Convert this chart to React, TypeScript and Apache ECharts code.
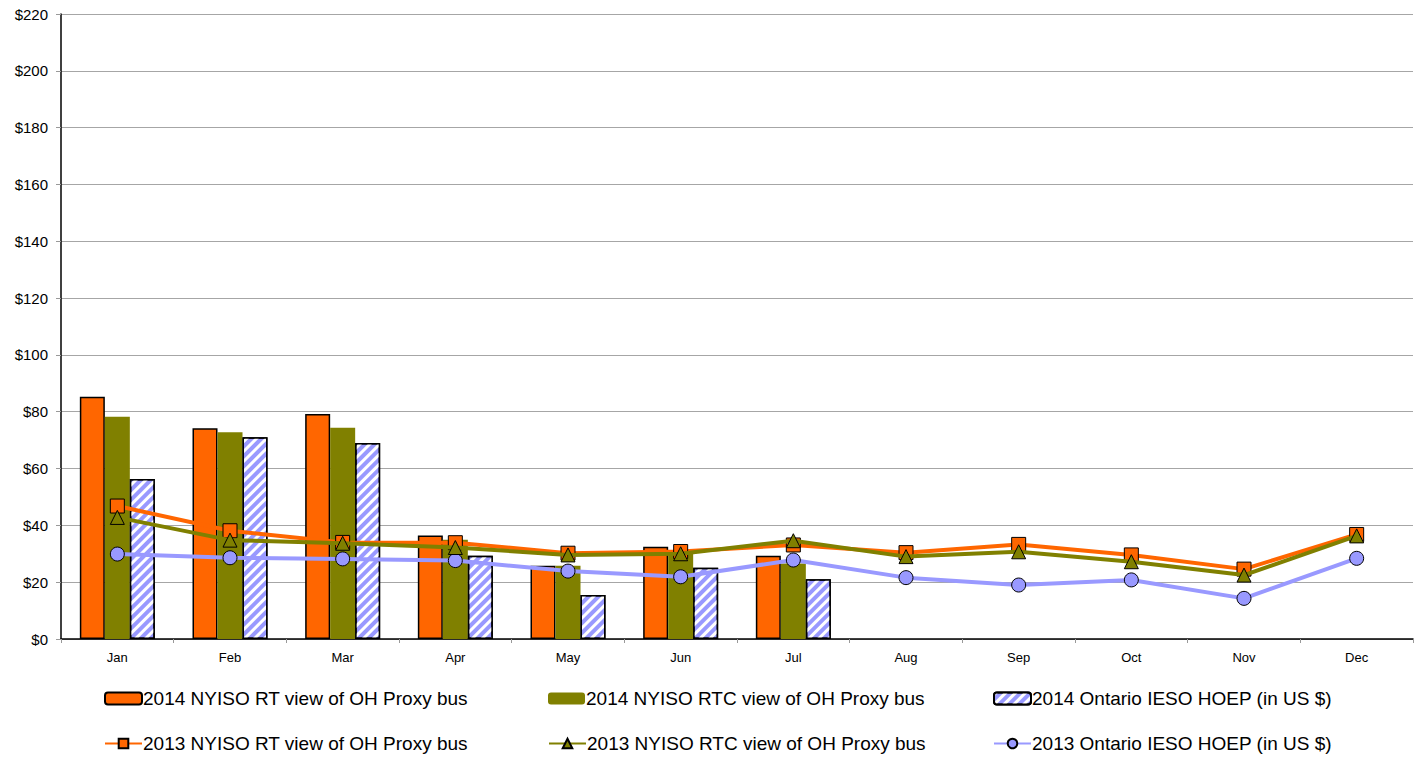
import React, { useEffect, useRef } from "react";
import * as echarts from "echarts";

const months = ["Jan", "Feb", "Mar", "Apr", "May", "Jun", "Jul", "Aug", "Sep", "Oct", "Nov", "Dec"];
const rt2014 = [85.3, 74.2, 79.2, 36.4, 25.8, 32.5, 29.3, null, null, null, null, null];
const rtc2014 = [78.2, 72.8, 74.4, 34.9, 25.8, 31.0, 26.6, null, null, null, null, null];
const ieso2014 = [56.3, 71.0, 69.0, 29.3, 15.5, 25.1, 21.0, null, null, null, null, null];
const rt2013 = [46.8, 38.1, 34.0, 33.9, 30.2, 30.8, 33.1, 30.4, 33.3, 29.6, 24.6, 36.8];
const rtc2013 = [42.8, 34.8, 33.7, 32.2, 29.6, 30.0, 34.6, 29.0, 30.7, 27.2, 22.5, 36.3];
const ieso2013 = [29.9, 28.6, 28.2, 27.6, 23.9, 21.9, 27.8, 21.6, 19.0, 20.8, 14.3, 28.4];

const names = [
  "2014 NYISO RT view of OH Proxy bus",
  "2014 NYISO RTC view of OH Proxy bus",
  "2014 Ontario IESO HOEP (in US $)",
  "2013 NYISO RT view of OH Proxy bus",
  "2013 NYISO RTC view of OH Proxy bus",
  "2013 Ontario IESO HOEP (in US $)",
];

const FONT = "Liberation Sans, Arial, sans-serif";

export default function App() {
  const ref = useRef<HTMLDivElement>(null);
  useEffect(() => {
    const chart = echarts.init(ref.current!, null, { renderer: "svg" });
    const lg = (name: string, left: number, top: number) => ({
      left,
      top,
      itemWidth: 37,
      itemHeight: 12,
      data: [name],
      selectedMode: false,
      textStyle: { fontFamily: FONT, fontSize: 19, color: "#000", padding: [0, 0, 0, -4] },
    });
    const cols = [99, 543, 988];
    const rows = [684, 729];
    chart.setOption({
      animation: false,
      aria: { enabled: true, decal: { show: false } },
      grid: { left: 61, right: 3, top: 14, bottom: 123, containLabel: false },
      legend: [
        lg(names[0], cols[0], rows[0]),
        lg(names[1], cols[1], rows[0]),
        lg(names[2], cols[2], rows[0]),
        lg(names[3], cols[0], rows[1]),
        lg(names[4], cols[1], rows[1]),
        lg(names[5], cols[2], rows[1]),
      ],
      xAxis: {
        type: "category",
        data: months,
        axisLine: { lineStyle: { color: "#000", width: 1.5 } },
        axisTick: { show: true, length: 4, lineStyle: { color: "#999" } },
        axisLabel: { fontFamily: FONT, fontSize: 13, color: "#000", margin: 12 },
      },
      yAxis: {
        type: "value",
        min: 0,
        max: 220,
        interval: 20,
        axisLine: { show: true, lineStyle: { color: "#000", width: 1.5 } },
        axisTick: { show: true, length: 5, lineStyle: { color: "#999" } },
        splitLine: { lineStyle: { color: "#a6a6a6", width: 1 } },
        axisLabel: { fontFamily: FONT, fontSize: 15, color: "#000", margin: 13, formatter: (v: number) => "$" + v },
      },
      series: [
        {
          name: names[0],
          type: "bar",
          data: rt2014,
          barWidth: 25,
          barGap: "0%",
          itemStyle: { color: "#ff6600", borderColor: "#000", borderWidth: 1.5 },
        },
        {
          name: names[1],
          type: "bar",
          data: rtc2014,
          barWidth: 25,
          barGap: "0%",
          itemStyle: { color: "#808000" },
        },
        {
          name: names[2],
          type: "bar",
          data: ieso2014,
          barWidth: 25,
          barGap: "0%",
          itemStyle: {
            color: "#9999ff",
            borderColor: "#000",
            borderWidth: 1.5,
            decal: {
              color: "#ffffff",
              symbol: "rect",
              symbolSize: 1,
              dashArrayX: [1, 0],
              dashArrayY: [3, 4],
              rotation: -Math.PI / 4,
            },
          },
        },
        {
          name: names[3],
          type: "line",
          data: rt2013,
          z: 5,
          symbol: "rect",
          symbolSize: 14,
          lineStyle: { color: "#ff6600", width: 4 },
          itemStyle: { color: "#ff6600", borderColor: "#000", borderWidth: 1 },
        },
        {
          name: names[4],
          type: "line",
          data: rtc2013,
          z: 6,
          symbol: "triangle",
          symbolSize: 14,
          lineStyle: { color: "#808000", width: 4 },
          itemStyle: { color: "#808000", borderColor: "#000", borderWidth: 1 },
        },
        {
          name: names[5],
          type: "line",
          data: ieso2013,
          z: 4,
          symbol: "circle",
          symbolSize: 14,
          lineStyle: { color: "#9999ff", width: 4 },
          itemStyle: { color: "#9999ff", borderColor: "#000", borderWidth: 1 },
        },
      ],
    });
    return () => chart.dispose();
  }, []);
  return <div ref={ref} style={{ width: 1416, height: 762, position: "absolute", left: 0, top: 0 }} />;
}
